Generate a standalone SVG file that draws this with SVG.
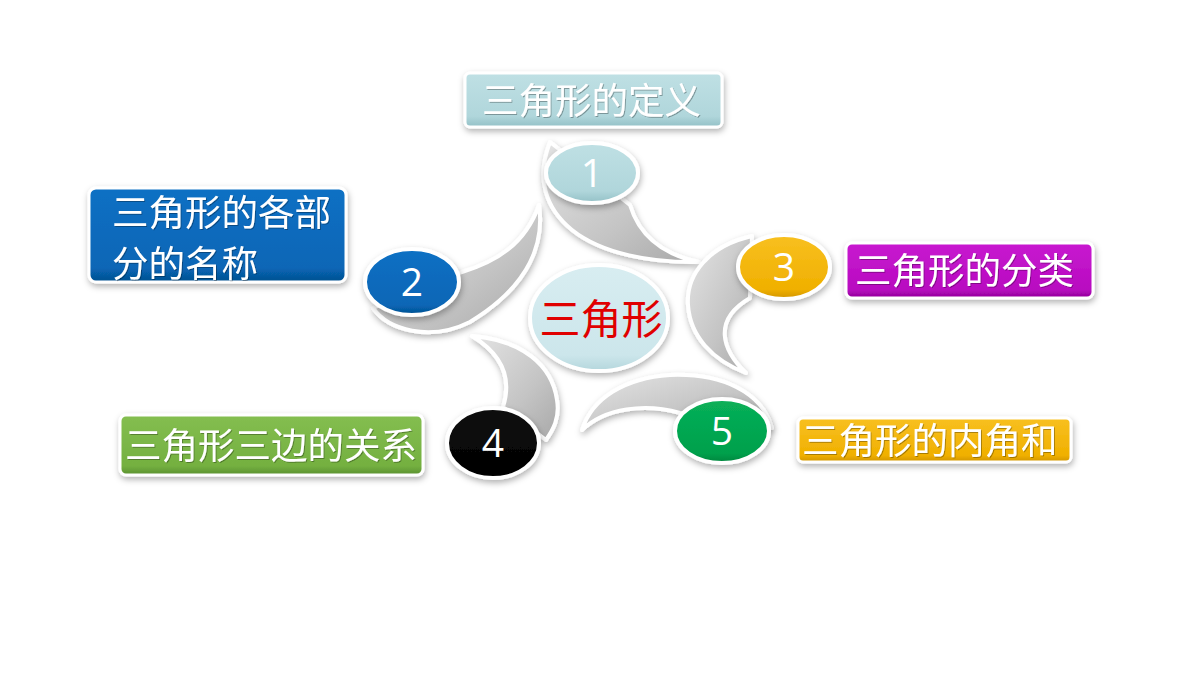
<svg xmlns="http://www.w3.org/2000/svg" width="1200" height="675" viewBox="0 0 1200 675">
<defs>
<filter id="sh" x="-20%" y="-20%" width="140%" height="150%">
<feDropShadow dx="1" dy="3" stdDeviation="3" flood-color="#000" flood-opacity="0.3"/>
</filter>
<filter id="ts" x="-5%" y="-10%" width="110%" height="130%">
<feDropShadow dx="1" dy="1" stdDeviation="0.6" flood-color="#000" flood-opacity="0.3"/>
</filter>
<linearGradient id="gGray" x1="0" y1="0" x2="1" y2="1">
<stop offset="0" stop-color="#e4e4e4"/>
<stop offset="0.6" stop-color="#c4c4c4"/>
<stop offset="1" stop-color="#a8a8a8"/>
</linearGradient>
<linearGradient id="gTeal" x1="0" y1="0" x2="0" y2="1">
<stop offset="0" stop-color="#bfe0e4"/><stop offset="0.8" stop-color="#b0d6db"/><stop offset="1" stop-color="#93c0c6"/>
</linearGradient>
<linearGradient id="gBlue" x1="0" y1="0" x2="0" y2="1">
<stop offset="0" stop-color="#0a70c4"/><stop offset="0.85" stop-color="#0866b6"/><stop offset="1" stop-color="#04508f"/>
</linearGradient>
<linearGradient id="gPurple" x1="0" y1="0" x2="0" y2="1">
<stop offset="0" stop-color="#c818d0"/><stop offset="0.85" stop-color="#b80cc0"/><stop offset="1" stop-color="#8e0096"/>
</linearGradient>
<linearGradient id="gYellow" x1="0" y1="0" x2="0" y2="1">
<stop offset="0" stop-color="#f8c020"/><stop offset="0.85" stop-color="#f0b000"/><stop offset="1" stop-color="#d09400"/>
</linearGradient>
<linearGradient id="gGreenBox" x1="0" y1="0" x2="0" y2="1">
<stop offset="0" stop-color="#84be50"/><stop offset="0.85" stop-color="#74b040"/><stop offset="1" stop-color="#5a9030"/>
</linearGradient>
<linearGradient id="gGreen" x1="0" y1="0" x2="0" y2="1">
<stop offset="0" stop-color="#08b058"/><stop offset="0.85" stop-color="#00a04c"/><stop offset="1" stop-color="#00843c"/>
</linearGradient>
<linearGradient id="gBlack" x1="0" y1="0" x2="0" y2="1">
<stop offset="0" stop-color="#101010"/><stop offset="1" stop-color="#000"/>
</linearGradient>
<linearGradient id="gCenter" x1="0" y1="0" x2="0" y2="1">
<stop offset="0" stop-color="#d8edf1"/><stop offset="0.85" stop-color="#cce6eb"/><stop offset="1" stop-color="#b4d6dc"/>
</linearGradient>
</defs>
<style>
.box{stroke:#fff;stroke-width:3;filter:url(#sh)}
.ell{stroke:#fff;stroke-width:4;filter:url(#sh)}
.tail{fill:url(#gGray);stroke:#fff;stroke-width:4;stroke-linejoin:round;filter:url(#sh)}
.lbl{font-family:"Noto Sans CJK SC","Microsoft YaHei",sans-serif;font-size:36.5px;fill:#fff;filter:url(#ts)}
.num{font-family:"Open Sans","Noto Sans",sans-serif;font-size:39px;fill:#fff;text-anchor:middle}
.ctr{font-family:"Noto Sans CJK SC",sans-serif;font-size:41px;fill:#e00000;text-anchor:middle}
</style>
<rect width="1200" height="675" fill="#fff"/>

<g id="connectors">
<path class="tail" d="M550,142 C536,178 545,208 572,230 C602,254 652,263 699,262 C665,255 640,238 630,205 Z"/>
<path class="tail" d="M539,205 C546,252 520,292 470,322 C430,342 388,330 373,308 L462,272 C495,262 525,245 539,205 Z"/>
<path class="tail" d="M752,236 C708,246 686,275 688,305 C690,336 712,360 746,373 C722,350 712,320 750,298 Z"/>
<path class="tail" d="M472,336 C522,340 552,365 557,400 C560,418 553,430 546,440 L503,407 C510,385 508,358 472,336 Z"/>
<path class="tail" d="M582,430 C592,398 625,378 670,375 C722,373 762,392 772,428 L680,413 C645,403 605,408 582,430 Z"/>
</g>

<g id="node-center">
<ellipse class="ell" cx="599" cy="318" rx="69" ry="53" fill="url(#gCenter)"/>
<text class="ctr" x="601" y="334">三角形</text>
</g>

<g id="node-1">
<ellipse class="ell" cx="592" cy="173" rx="46" ry="30" fill="url(#gTeal)"/>
<text class="num" x="592" y="187">1</text>
</g>
<g id="node-2">
<ellipse class="ell" cx="412" cy="282" rx="47" ry="33" fill="url(#gBlue)"/>
<text class="num" x="412" y="296">2</text>
</g>
<g id="node-3">
<ellipse class="ell" cx="784" cy="267" rx="46" ry="32" fill="url(#gYellow)"/>
<text class="num" x="784" y="281">3</text>
</g>
<g id="node-4">
<ellipse class="ell" cx="493" cy="443" rx="46" ry="35" fill="url(#gBlack)"/>
<text class="num" x="493" y="457">4</text>
</g>
<g id="node-5">
<ellipse class="ell" cx="722" cy="431" rx="47" ry="32" fill="url(#gGreen)"/>
<text class="num" x="722" y="445">5</text>
</g>

<g id="box-1">
<rect class="box" x="465" y="73" width="257" height="54" rx="5" fill="url(#gTeal)"/>
<text class="lbl" x="482" y="114">三角形的定义</text>
</g>
<g id="box-2">
<rect class="box" x="89" y="188" width="257" height="94" rx="7" fill="url(#gBlue)"/>
<text class="lbl" x="112" y="226">三角形的各部</text>
<text class="lbl" x="112" y="277">分的名称</text>
</g>
<g id="box-3">
<rect class="box" x="846" y="243" width="247" height="55" rx="6" fill="url(#gPurple)"/>
<text class="lbl" x="855" y="284">三角形的分类</text>
</g>
<g id="box-4">
<rect class="box" x="120" y="415" width="303" height="60" rx="6" fill="url(#gGreenBox)"/>
<text class="lbl" x="125" y="459">三角形三边的关系</text>
</g>
<g id="box-5">
<rect class="box" x="798" y="418" width="273" height="44" rx="5" fill="url(#gYellow)"/>
<text class="lbl" x="802" y="454">三角形的内角和</text>
</g>
</svg>
